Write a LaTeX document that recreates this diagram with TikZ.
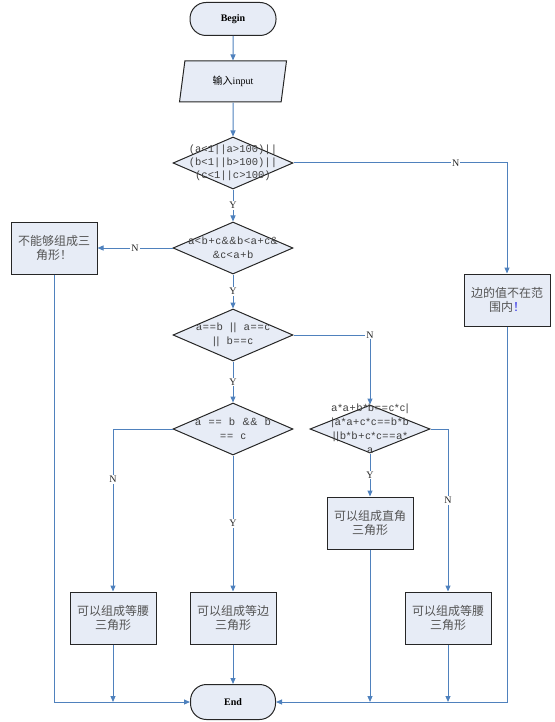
\documentclass[tikz,border=0pt]{standalone}
\usepackage{fontspec}
\setmainfont{Liberation Serif}
\newfontfamily\cjk{Noto Sans CJK SC}
\newfontfamily\condsans[LetterSpace=8]{Liberation Sans}
\newfontfamily\condmono{Liberation Mono}
\usetikzlibrary{shapes.geometric,arrows.meta}
\definecolor{boxfill}{RGB}{231,236,246}
\definecolor{flowline}{RGB}{79,129,189}
\definecolor{textgray}{RGB}{64,64,64}
\definecolor{cjkgray}{RGB}{85,85,85}
\definecolor{bangblue}{RGB}{40,40,230}
\tikzset{
	terminal/.style={draw=black!85,line width=1pt,fill=boxfill,rounded corners=16pt,minimum width=86pt,minimum height=33pt,inner sep=0pt,font=\bfseries\fontsize{10}{12}\selectfont},
	io/.style={draw=black!85,line width=1pt,fill=boxfill,trapezium,trapezium left angle=63,trapezium right angle=117,trapezium stretches body,minimum width=107pt,minimum height=41pt,inner sep=0pt,font=\fontsize{10}{12}\selectfont},
	decision/.style={draw=black!85,line width=1pt,fill=boxfill,diamond,minimum width=120pt,minimum height=52pt,inner sep=0pt},
	condtext/.style={align=center,inner sep=0pt,text=textgray,font=\condsans\fontsize{10.5}{14}\selectfont},
	process/.style={draw=black!85,line width=1pt,fill=boxfill,minimum width=86pt,minimum height=52pt,inner sep=0pt,align=center,text=cjkgray,font=\cjk\fontsize{12}{14}\selectfont},
	flow/.style={draw=flowline,line width=1pt,-{Triangle[length=6pt,width=5pt]}},
	yn/.style={fill=white,inner sep=1pt,font=\fontsize{10}{12}\selectfont,text=black!85}
}
\begin{document}
\begin{tikzpicture}[x=1pt,y=-1pt]
	\useasboundingbox (0,0) rectangle (554,722);
	
	\node[terminal] (begin) at (233,19) {Begin};
	\node[io] (input) at (233,81.5) {{\cjk 输入}input};
	\node[decision] (range) at (233,163) {}; \node[condtext,font=\condmono\fontsize{10.5}{13}\selectfont] (rangetext) at (range) {(a<1||a>100)||\\(b<1||b>100)||\\(c<1||c>100)};
	\node[decision] (tri) at (233,248) {}; \node[condtext] (tritext) at (tri) {a<b+c\&\&b<a+c\&\\\&c<a+b};
	\node[decision] (anyeq) at (233,335) {}; \node[condtext] (anyeqtext) at (anyeq) {a==b~~||~~a==c\\||~~b==c};
	\node[decision] (alleq) at (233,429) {}; \node[condtext] (alleqtext) at (alleq) {a~~==~~b~~\&\&~~b\\==~~c};
	\node[decision,minimum height=48pt] (pyth) at (370,429) {}; \node[condtext] (pythtext) at (pyth) {a*a+b*b==c*c|\\|a*a+c*c==b*b\\||b*b+c*c==a*\\a};
	
	\node[process] (notri) at (54,248) {不能够组成三\\角形！};
	\node[process] (outrange) at (507,300) {边的值不在范\\围内{\color{bangblue}！}};
	\node[process] (isoA) at (113,618) {可以组成等腰\\三角形};
	\node[process] (equi) at (233,618) {可以组成等边\\三角形};
	\node[process] (rightang) at (370,523) {可以组成直角\\三角形};
	\node[process] (isoB) at (448,618) {可以组成等腰\\三角形};
	\node[terminal,minimum width=85pt,minimum height=35pt] (end) at (233,702) {End};
	
	\coordinate (mergeA) at (isoA |- end); \coordinate (mergeR) at (rightang |- end); \coordinate (mergeB) at (isoB |- end);
	
	\draw[flow] (begin) -- (input); \draw[flow] (input) -- (range);
	\draw[flow] (range) --node[yn]{Y} (tri); \draw[flow] (range.east) -|node[yn,pos=0.38]{N} (outrange);
	\draw[flow] (tri.west) --node[yn]{N} (notri); \draw[flow] (tri) --node[yn]{Y} (anyeq);
	\draw[flow] (anyeq.east) -|node[yn,pos=0.5]{N} (pyth.north); \draw[flow] (anyeq) --node[yn]{Y} (alleq);
	\draw[flow] (alleq.west) -|node[yn,pos=0.655]{N} (isoA); \draw[flow] (alleq) --node[yn]{Y} (equi);
	\draw[flow] (pyth) --node[yn]{Y} (rightang); \draw[flow] (pyth.east) -|node[yn,pos=0.72]{N} (isoB);
	
	\draw[flow] (notri) |- (end); \draw[flow] (isoA) -- (mergeA); \draw[flow] (equi) -- (end);
	\draw[flow] (rightang) -- (mergeR); \draw[flow] (isoB) -- (mergeB); \draw[flow] (outrange) |- (end);
\end{tikzpicture}
\end{document}
